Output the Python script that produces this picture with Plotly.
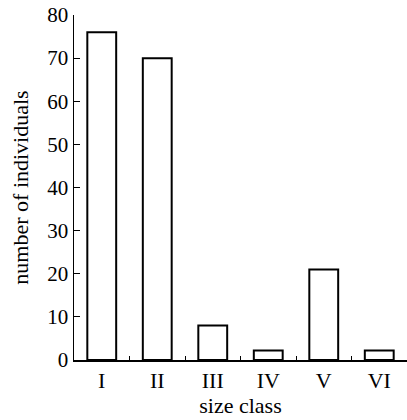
import plotly.graph_objects as go

categories = ["I", "II", "III", "IV", "V", "VI"]
values = [76, 70, 8, 2.2, 21, 2.2]
y_ticks = [0, 10, 20, 30, 40, 50, 60, 70, 80]

FONT = "Liberation Serif, Times New Roman, serif"

fig = go.Figure(
    go.Bar(
        x=categories,
        y=values,
        width=0.52,
        marker=dict(color="white", line=dict(color="black", width=2)),
        hoverinfo="skip",
    )
)

fig.update_layout(
    width=407,
    height=420,
    margin=dict(l=74, r=0, t=15, b=60, autoexpand=False),
    plot_bgcolor="white",
    paper_bgcolor="white",
    showlegend=False,
    font=dict(family=FONT, color="black", size=20),
)

fig.update_xaxes(
    range=[-0.5, 5.5],
    showline=True,
    linecolor="black",
    linewidth=1.5,
    ticks="inside",
    tickson="boundaries",
    ticklen=4,
    tickwidth=1,
    tickcolor="black",
    showgrid=False,
    zeroline=False,
    tickfont=dict(family=FONT, size=22),
    title=dict(text="size class", font=dict(family=FONT, size=22), standoff=5),
)

fig.update_yaxes(
    range=[0, 80],
    tickvals=y_ticks,
    showline=True,
    linecolor="black",
    linewidth=1.5,
    ticks="inside",
    ticklen=6,
    tickwidth=1,
    tickcolor="black",
    showgrid=False,
    zeroline=False,
    tickfont=dict(family=FONT, size=21),
    title=dict(text="number of individuals", font=dict(family=FONT, size=22), standoff=12),
)

# remove the default 8px page margin so the figure sits at the window's top-left corner
fig.write_html(
    "out.html",
    config={"displayModeBar": False, "staticPlot": True},
    post_script="document.body.style.margin='0';document.body.style.overflow='hidden';",
)
